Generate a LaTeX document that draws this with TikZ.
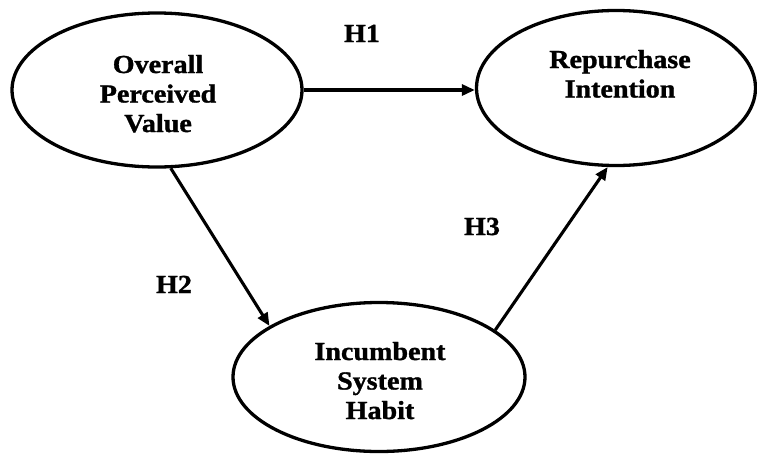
\documentclass[tikz,border=0pt]{standalone}
\usepackage{fontspec}
\setmainfont{Liberation Serif}[BoldFeatures={FakeBold=1.2}]
\usetikzlibrary{shapes.geometric,arrows.meta}
\newcommand{\lbltext}[1]{\scalebox{1.08}[1]{\begin{tabular}[t]{@{}c@{}}#1\end{tabular}}}
\tikzset{
  construct/.style={draw, ellipse, line width=3.3pt, inner sep=0pt},
  lbl/.style={anchor=base, inner sep=0pt, font=\bfseries\fontsize{26}{29.5}\selectfont},
  arr/.style={line width=3.1pt, -{Triangle[length=13pt,width=11pt]}}
}
\begin{document}
\begin{tikzpicture}[x=1pt,y=-1pt]
\useasboundingbox (0,0) rectangle (757,453);
\node[construct, minimum width=290pt, minimum height=154pt] (ovp) at (157,90) {};
\node[construct, minimum width=279pt, minimum height=155pt] (ri) at (616,88) {};
\node[construct, minimum width=292pt, minimum height=149pt] (ish) at (379,377) {};

\node[lbl] (tovp) at (158,73) {\lbltext{Overall\\Perceived\\Value}};
\node[lbl] (tri) at (620,68) {\lbltext{Repurchase\\Intention}};
\node[lbl] (tish) at (380,360) {\lbltext{Incumbent\\System\\Habit}};

\draw[arr] (ovp.east) -- (ovp.east -| ri.west);
\draw[arr] (ovp.-80) -- (ish.155);
\draw[arr] (ish.22) -- (ri.-96);

\node[lbl] (h1) at (362,42) {\lbltext{H1}};
\node[lbl] (h2) at (174,293) {\lbltext{H2}};
\node[lbl] (h3) at (482,235) {\lbltext{H3}};
\end{tikzpicture}
\end{document}
